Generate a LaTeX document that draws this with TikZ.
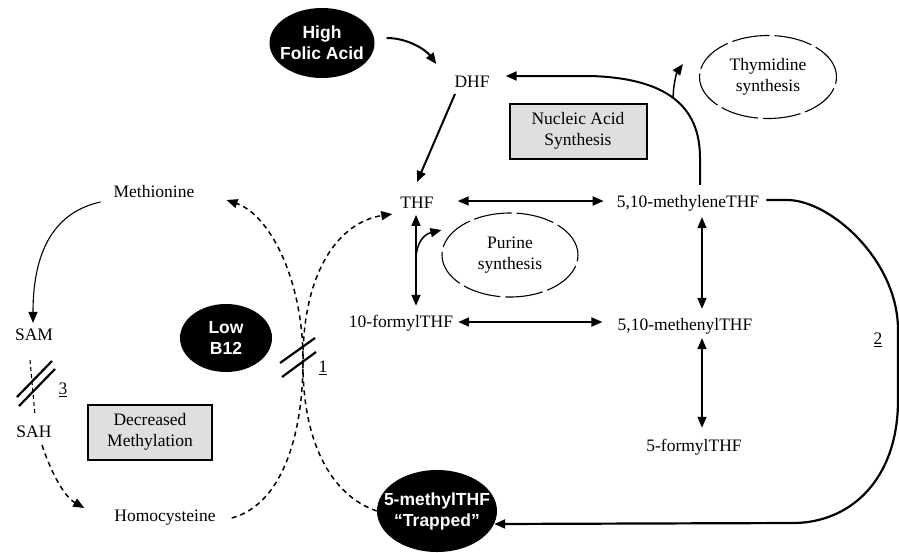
\documentclass[tikz,border=0pt]{standalone}
\usepackage{fontspec}
\setmainfont{Liberation Serif}
\newfontfamily\labsans{Liberation Sans}
\usetikzlibrary{arrows.meta,shapes.geometric,calc}
\begin{document}
\begin{tikzpicture}[x=1pt,y=-1pt,
  lbl/.style={font=\fontsize{17.5}{21.5}\selectfont, inner sep=2pt, align=center},
  blob/.style={ellipse, fill=black, text=white, inner sep=-20pt, align=center,
    font=\labsans\bfseries\fontsize{17.5}{21}\selectfont},
  dashell/.style={ellipse, draw, line width=1.1pt, dash pattern=on 38pt off 5pt,
    inner sep=-20pt, align=center, font=\fontsize{17.5}{21.5}\selectfont},
  graybox/.style={draw, line width=2pt, fill=gray!25, minimum width=137pt,
    minimum height=55pt, inner sep=0pt, align=center, font=\fontsize{17.5}{21.5}\selectfont},
  arrowone/.style={-{Triangle[length=11pt,width=9pt]}},
  arrowtwo/.style={{Triangle[length=11pt,width=9pt]}-{Triangle[length=11pt,width=9pt]}},
  thickline/.style={line width=2pt},
  midline/.style={line width=1.5pt},
  dashline/.style={line width=1.5pt, dash pattern=on 5pt off 4pt},
  slashline/.style={line width=2.2pt}
]
\path[use as bounding box] (0,0) rectangle (899,552);

% nodes
\node[blob, minimum width=105pt, minimum height=70pt] (hfa) at (322,43) {High\\Folic Acid};
\node[lbl] (dhf) at (472,82) {DHF};
\node[graybox] (nas) at (578,131) {Nucleic Acid\\Synthesis};
\node[dashell, minimum width=137pt, minimum height=83pt] (thy) at (768,77) {Thymidine\\synthesis};
\node[lbl] (thf) at (417,203) {THF};
\node[lbl] (mlthf) at (688,203) {5,10-methyleneTHF};
\node[dashell, minimum width=136pt, minimum height=84pt] (pur) at (510,255) {Purine\\synthesis};
\node[lbl] (fthf) at (401,323) {10-formylTHF};
\node[lbl] (mnthf) at (685,326) {5,10-methenylTHF};
\node[lbl] (f5thf) at (694,447) {5-formylTHF};
\node[lbl] (met) at (154,192) {Methionine};
\node[lbl] (sam) at (34,335) {SAM};
\node[lbl] (sah) at (34,432) {SAH};
\node[lbl] (hcy) at (165,518) {Homocysteine};
\node[graybox, minimum width=124pt] (dm) at (150,432) {Decreased\\Methylation};
\node[blob, minimum width=92pt, minimum height=68pt] (b12) at (226,338) {Low\\B12};
\node[blob, minimum width=120pt, minimum height=82pt] (mthf) at (437,511) {5-methylTHF\\“Trapped”};
\node[lbl] (l1) at (323,368) {\underline{1}};
\node[lbl] (l2) at (878,340) {\underline{2}};
\node[lbl] (l3) at (63,390) {\underline{3}};

% connectors
\draw[thickline, arrowone] ($(hfa.east)+(12,-5)$) .. controls (408,38) and (426,50) .. ($(dhf.north west)+(-16,-10)$);
\draw[thickline, arrowone] ($(dhf.south)+(-17,4)$) -- ($(thf.north)+(0,-13)$);
\draw[thickline, arrowtwo] ($(thf.east)+(22,-2)$) -- ($(mlthf.west)+(-11,-2)$);
\draw[midline, arrowtwo] ($(thf.south)+(-1,4)$) -- coordinate[pos=0.5] (brP) ($(fthf.north)+(15,-7)$);
\draw[midline, arrowone] (brP) .. controls ($(brP)+(0,-18)$) and ($(brP)+(8,-26)$) .. ($(pur.west)+(0,-25)$);
\draw[midline, arrowtwo] ($(mlthf.south)+(14,4)$) -- ($(mnthf.north)+(17,-7)$);
\draw[midline, arrowtwo] ($(mnthf.south)+(17,2)$) -- ($(f5thf.north)+(8,-9)$);
\draw[thickline, arrowtwo] ($(fthf.east)+(3,-1)$) -- ($(mnthf.west)+(-13,-4)$);
\draw[thickline, arrowone] ($(mlthf.north)+(12,-8)$) -- ++(0,-27)
  .. controls (700,105) and (665,78) .. coordinate[pos=0.5] (brT) (590,76)
  -- ($(dhf.east)+(14,-6)$);
\draw[midline, arrowone] (brT) .. controls ($(brT)+(0,-14)$) and ($(brT)+(4,-26)$) .. ($(thy.west)+(-16,-13)$);
\draw[line width=2.2pt, arrowone] ($(mlthf.east)+(5,-3)$) -- (787,200)
  .. controls (830,200) and (898,260) .. (898,330) -- (898,400)
  .. controls (898,480) and (850,523) .. (793,523) -- ($(mthf.east)+(-3,13)$);
\draw[line width=1.1pt, arrowone] ($(met.west)+(-11,10)$) .. controls (55,212) and (33,250) .. ($(sam.north)+(-1,-4)$);
\draw[line width=1.1pt, dash pattern=on 4pt off 3pt] ($(sam.south)+(-4,17)$) -- ($(sah.north)+(1,-9)$);
\draw[dashline, arrowone] ($(sah.south)+(8,5)$) .. controls (52,475) and (65,497) .. ($(hcy.west)+(-28,-10)$);
\draw[dashline, arrowone] ($(hcy.east)+(14,0)$) .. controls (280,505) and (303,440) .. (303,360)
  .. controls (303,280) and (270,215) .. ($(met.east)+(30,8)$);
\draw[dashline, arrowone] (mthf.west) .. controls (330,495) and (302,440) .. (303,360)
  .. controls (303,270) and (340,222) .. ($(thf.west)+(-6,11)$);

% blocked-step marks
\draw[slashline] (280,363) -- (315,338);
\draw[slashline] (282,377) -- (316,352);
\draw[slashline] (17,397) -- (52,361);
\draw[slashline] (19,406) -- (55,369);
\end{tikzpicture}
\end{document}
